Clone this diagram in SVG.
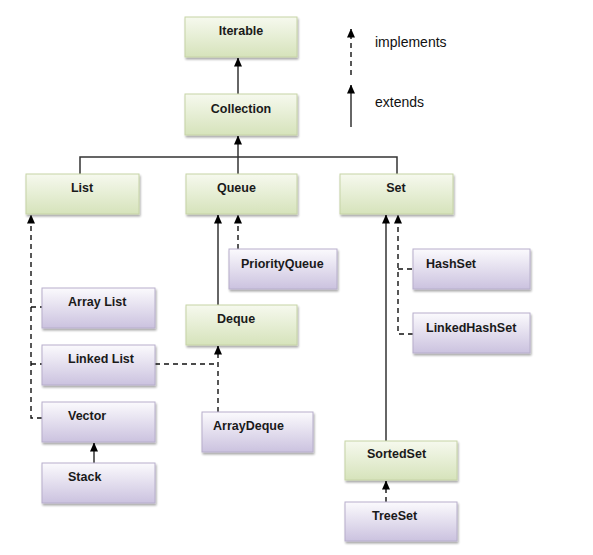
<svg xmlns="http://www.w3.org/2000/svg" width="593" height="555" viewBox="0 0 593 555">
<defs>
<linearGradient id="gGreen" x1="0" y1="0" x2="0" y2="1">
<stop offset="0" stop-color="#f6f9ee"/>
<stop offset="1" stop-color="#d6e3bb"/>
</linearGradient>
<linearGradient id="gPurple" x1="0" y1="0" x2="0" y2="1">
<stop offset="0" stop-color="#fbfafd"/>
<stop offset="1" stop-color="#cbc2df"/>
</linearGradient>
<filter id="sh" x="-10%" y="-10%" width="130%" height="140%">
<feGaussianBlur in="SourceAlpha" stdDeviation="1.2"/>
<feOffset dx="1" dy="2" result="b"/>
<feComponentTransfer><feFuncA type="linear" slope="0.35"/></feComponentTransfer>
<feMerge><feMergeNode/><feMergeNode in="SourceGraphic"/></feMerge>
</filter>
<marker id="ah" viewBox="0 0 9 8" refX="8.5" refY="4" markerWidth="9" markerHeight="8" markerUnits="userSpaceOnUse" orient="auto">
<path d="M0,0 L9,4 L0,8 Z" fill="#000"/>
</marker>
</defs>
<style>
.g{fill:url(#gGreen);stroke:#c6d3a6;stroke-width:1;filter:url(#sh)}
.p{fill:url(#gPurple);stroke:#b7aecb;stroke-width:1;filter:url(#sh)}
.t{font-family:"Liberation Sans",Arial,sans-serif;font-weight:bold;font-size:12.5px;fill:#1a1a1a}
.lg{font-family:"Liberation Sans",Arial,sans-serif;font-size:14px;fill:#111}
.s{fill:none;stroke:#333;stroke-width:1.5}
.d{fill:none;stroke:#111;stroke-width:1.4;stroke-dasharray:5,4}
.c{text-anchor:middle}
</style>
<rect width="593" height="555" fill="#fff"/>

<g id="connectors">
<line class="s" x1="238" y1="94" x2="238" y2="58" marker-end="url(#ah)"/>
<line class="s" x1="238" y1="174" x2="238" y2="136" marker-end="url(#ah)"/>
<polyline class="s" points="80,174 80,157 397,157 397,174"/>
<line class="s" x1="218" y1="305" x2="218" y2="215" marker-end="url(#ah)"/>
<line class="d" x1="238" y1="249" x2="238" y2="215" marker-end="url(#ah)"/>
<polyline class="d" points="42,418 31,418 31,215" marker-end="url(#ah)"/>
<line class="d" x1="31" y1="307" x2="42" y2="307"/>
<line class="d" x1="31" y1="364" x2="42" y2="364"/>
<line class="d" x1="155" y1="364" x2="218" y2="364"/>
<line class="d" x1="218" y1="412" x2="218" y2="346" marker-end="url(#ah)"/>
<line class="s" x1="94" y1="463" x2="94" y2="443" marker-end="url(#ah)"/>
<line class="s" x1="386" y1="441" x2="386" y2="215" marker-end="url(#ah)"/>
<polyline class="d" points="413,334 398,334 398,215" marker-end="url(#ah)"/>
<line class="d" x1="398" y1="269" x2="413" y2="269"/>
<line class="d" x1="386" y1="502" x2="386" y2="481" marker-end="url(#ah)"/>
</g>

<g id="legend">
<line class="d" x1="351" y1="75" x2="351" y2="29" marker-end="url(#ah)"/>
<text class="lg" x="375" y="47">implements</text>
<line class="s" x1="351" y1="127" x2="351" y2="85" marker-end="url(#ah)"/>
<text class="lg" x="375" y="107">extends</text>
</g>

<g id="Iterable"><rect class="g" x="185" y="17" width="112" height="40"/><text class="t c" x="241" y="35">Iterable</text></g>
<g id="Collection"><rect class="g" x="185" y="94" width="112" height="41"/><text class="t c" x="241" y="113">Collection</text></g>
<g id="List"><rect class="g" x="26" y="174" width="113" height="40"/><text class="t c" x="82" y="192">List</text></g>
<g id="Queue"><rect class="g" x="186" y="174" width="111" height="40"/><text class="t" x="217" y="192">Queue</text></g>
<g id="Set"><rect class="g" x="340" y="174" width="113" height="40"/><text class="t c" x="396" y="192">Set</text></g>
<g id="PriorityQueue"><rect class="p" x="229" y="249" width="108" height="40"/><text class="t" x="241" y="268">PriorityQueue</text></g>
<g id="HashSet"><rect class="p" x="413" y="249" width="117" height="40"/><text class="t" x="426" y="268">HashSet</text></g>
<g id="ArrayList"><rect class="p" x="42" y="288" width="113" height="40"/><text class="t" x="68" y="306">Array List</text></g>
<g id="LinkedHashSet"><rect class="p" x="413" y="313" width="117" height="40"/><text class="t" x="426" y="332">LinkedHashSet</text></g>
<g id="Deque"><rect class="g" x="186" y="305" width="111" height="40"/><text class="t" x="217" y="323">Deque</text></g>
<g id="LinkedList"><rect class="p" x="42" y="345" width="113" height="40"/><text class="t" x="68" y="363">Linked List</text></g>
<g id="Vector"><rect class="p" x="42" y="402" width="113" height="40"/><text class="t" x="68" y="420">Vector</text></g>
<g id="ArrayDeque"><rect class="p" x="202" y="412" width="111" height="40"/><text class="t" x="213" y="430">ArrayDeque</text></g>
<g id="Stack"><rect class="p" x="42" y="463" width="113" height="40"/><text class="t" x="68" y="481">Stack</text></g>
<g id="SortedSet"><rect class="g" x="345" y="441" width="112" height="39"/><text class="t" x="367" y="458">SortedSet</text></g>
<g id="TreeSet"><rect class="p" x="345" y="502" width="112" height="39"/><text class="t" x="372" y="520">TreeSet</text></g>
</svg>
